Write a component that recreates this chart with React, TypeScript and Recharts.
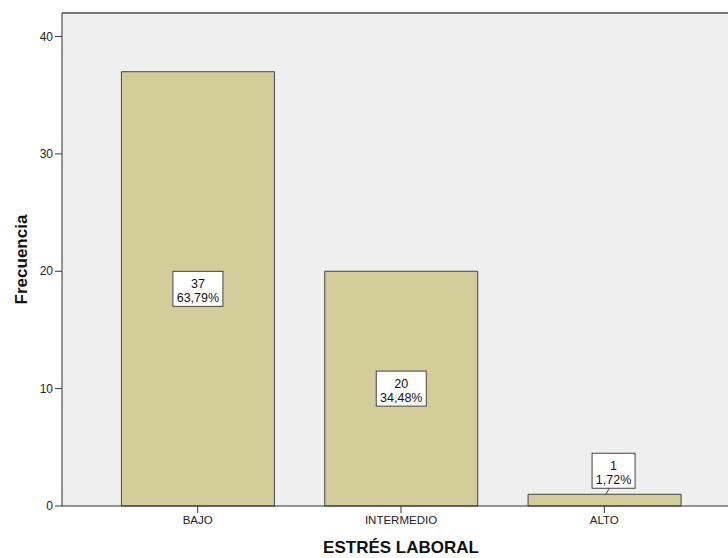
import { BarChart, Bar, XAxis, YAxis, CartesianGrid, ReferenceLine, LabelList, Label } from "recharts";

const categories = ["BAJO", "INTERMEDIO", "ALTO"];
const counts = [37, 20, 1];
const yTicks = [0, 10, 20, 30, 40];

const total = counts.reduce((a, b) => a + b, 0);
const data = categories.map((name, i) => ({
  name,
  value: counts[i],
  pct: ((counts[i] / total) * 100).toFixed(2).replace(".", ",") + "%",
}));

const FONT = '"Liberation Sans", Arial, sans-serif';

function BoxLabel(props: any) {
  const { x, y, width, height, index } = props;
  const d = data[index];
  if (!d) return null;
  const bw = d.pct.length * 7 + 8;
  const bh = 35;
  let cx = x + width / 2;
  let cy = y + height / 2;
  let leader = null;
  if (height < bh + 10) {
    cx = x + width / 2 + 9;
    cy = y - 6 - bh / 2;
    leader = <line x1={cx - 4} y1={y - 6} x2={cx - 8} y2={y} stroke="#444" strokeWidth={1} />;
  }
  return (
    <g>
      {leader}
      <rect x={cx - bw / 2} y={cy - bh / 2} width={bw} height={bh} fill="#fff" stroke="#444" strokeWidth={1} />
      <text x={cx} y={cy - 1} textAnchor="middle" fontSize={12.5} fontFamily={FONT} fill="#111">{d.value}</text>
      <text x={cx} y={cy + 13} textAnchor="middle" fontSize={12.5} fontFamily={FONT} fill="#111">{d.pct}</text>
    </g>
  );
}

export default function App() {
  return (
    <div style={{ position: "absolute", left: 0, top: 0, width: 728, height: 558, overflow: "hidden", background: "#fff" }}>
      <BarChart
        width={760}
        height={558}
        data={data}
        margin={{ top: 13, right: 20, left: 0, bottom: 0 }}
        barCategoryGap="12.5%"
      >
        <CartesianGrid fill="#EFEFEF" stroke="none" horizontal={false} vertical={false} />
        <ReferenceLine y={42} stroke="#777" strokeWidth={2} />
        <XAxis
          dataKey="name"
          padding={{ left: 34, right: 34 }}
          height={52}
          tickSize={7}
          tickMargin={3}
          axisLine={{ stroke: "#333" }}
          tickLine={{ stroke: "#333" }}
          tick={{ fill: "#222", fontSize: 11.5, fontFamily: FONT }}
        >
          <Label
            content={({ viewBox }: any) => (
              <text x={viewBox.x + viewBox.width / 2} y={viewBox.y + 47} textAnchor="middle" fontSize={17} fontWeight="bold" fontFamily={FONT} fill="#111">
                ESTRÉS LABORAL
              </text>
            )}
          />
        </XAxis>
        <YAxis
          width={62}
          domain={[0, 42]}
          ticks={yTicks}
          tickSize={7}
          tickMargin={2}
          axisLine={{ stroke: "#333" }}
          tickLine={{ stroke: "#333" }}
          tick={{ fill: "#222", fontSize: 12, fontFamily: FONT }}
        >
          <Label
            content={({ viewBox }: any) => {
              const cy = viewBox.y + viewBox.height / 2;
              return (
                <text x={27} y={cy} transform={`rotate(-90 27 ${cy})`} textAnchor="middle" fontSize={17} fontWeight="bold" fontFamily={FONT} fill="#111">
                  Frecuencia
                </text>
              );
            }}
          />
        </YAxis>
        <Bar dataKey="value" fill="#D3CE99" stroke="#444" strokeWidth={1} isAnimationActive={false}>
          <LabelList dataKey="value" content={BoxLabel} />
        </Bar>
      </BarChart>
    </div>
  );
}
